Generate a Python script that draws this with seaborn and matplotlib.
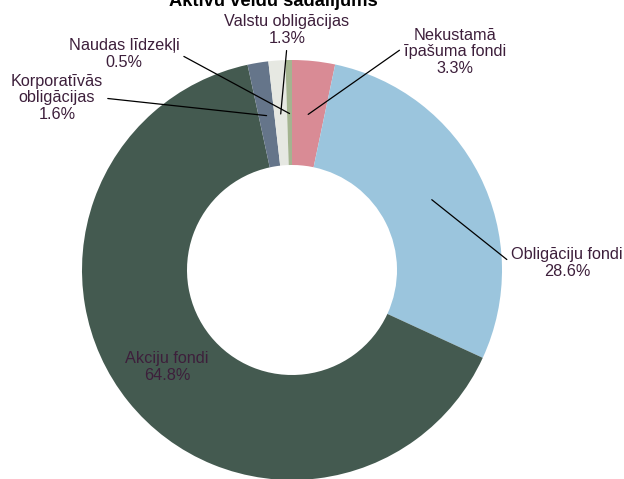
import seaborn as sns
import matplotlib.pyplot as plt
import numpy as np

sns.set_theme(style="white")
plt.rcParams["font.family"] = ["Liberation Sans", "DejaVu Sans"]

# data (clockwise from 12 o'clock)
labels = ["Nekustamā\nīpašuma fondi", "Obligāciju fondi", "Akciju fondi",
          "Korporatīvās\nobligācijas", "Valstu obligācijas", "Naudas līdzekļi"]
shares = [3.3, 28.6, 64.8, 1.6, 1.3, 0.5]
colors = ["#d98b95", "#9bc5dd", "#445a50", "#65758a", "#e6e8e2", "#a4b490"]

# label text centers in pixels of the 624x479 image, and where the leader starts
label_px = [(455, 52), (567, 263), (167, 367), (57, 98), (287, 30), (124, 54)]
relpos = [(0, 0.6), (0, 0.5), None, (1, 0.5), (0.5, 0), (1, 0.5)]

cx, cy, R = 292, 270, 210
W, H = 624, 479
txt_color = "#3d1f3b"
fs = 11.7


def to_data(px, py):
    return (px - cx) / R, (cy - py) / R


fig = plt.figure(figsize=(6.24, 4.79), dpi=100)
ax = fig.add_axes([0, 0, 1, 1])

wedges, _ = ax.pie(shares, colors=colors, startangle=90, counterclock=False,
                   radius=1, wedgeprops=dict(width=0.5, linewidth=0))

ax.set_xlim(-cx / R, (W - cx) / R)
ax.set_ylim(-(H - cy) / R, cy / R)
ax.set_aspect("auto")
ax.axis("off")

for w, lab, val, (px, py), rp in zip(wedges, labels, shares, label_px, relpos):
    text = f"{lab}\n{val:.1f}%"
    tx, ty = to_data(px, py)
    if rp is None:
        ax.text(tx, ty, text, ha="center", va="center", color=txt_color,
                fontsize=fs, linespacing=1.15)
        continue
    ang = np.deg2rad((w.theta1 + w.theta2) / 2)
    pt = (0.745 * np.cos(ang), 0.745 * np.sin(ang))
    ax.annotate(text, xy=pt, xytext=(tx, ty), ha="center", va="center",
                color=txt_color, fontsize=fs, linespacing=1.15,
                arrowprops=dict(arrowstyle="-", color="black", lw=0.9,
                                relpos=rp, shrinkA=1, shrinkB=0))

tx, ty = to_data(273, 1)
ax.text(tx, ty, "Aktīvu veidu sadalījums", ha="center", va="center",
        fontsize=13.2, fontweight="bold", color="black")

fig.savefig("out.png", dpi=100)
